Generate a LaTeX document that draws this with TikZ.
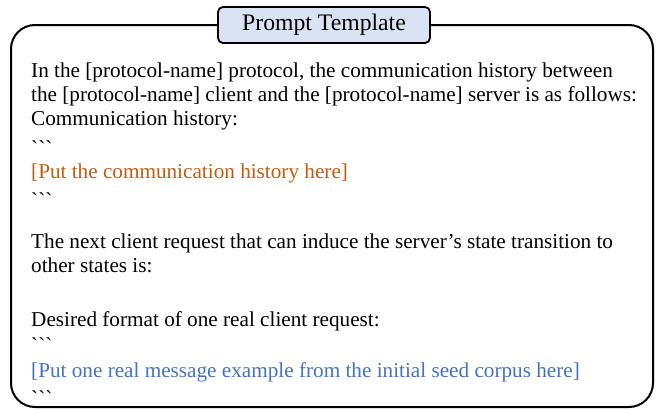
\documentclass[tikz,border=0pt]{standalone}
\usepackage{fontspec}
\setmainfont{Liberation Serif}
\usetikzlibrary{positioning}

\definecolor{titlefill}{HTML}{DAE3F3}
\definecolor{histcolor}{HTML}{C55A11}
\definecolor{seedcolor}{HTML}{4472C4}
\newcommand{\fence}{\textasciigrave\textasciigrave\textasciigrave}

\begin{document}
\begin{tikzpicture}[
    x=1pt, y=-1pt,
    frame/.style={draw, line width=2pt, rounded corners=24pt, minimum width=642pt, minimum height=382pt, inner sep=0pt},
    title/.style={draw, line width=1.8pt, fill=titlefill, rounded corners=5pt, minimum width=212pt, minimum height=36pt, font=\fontsize{23.7}{28}\selectfont},
    textline/.style={anchor=base west, inner sep=0pt, font=\fontsize{21.2}{25}\selectfont}
    ]
    \useasboundingbox (0,0) rectangle (665,410);
    \node (frame) [frame] at (332,216) {};
    \node (title) [title] at (324,25) {Prompt Template};

    % communication history part
    \node (intro1) [textline] at (31,77.5) {In the [protocol-name] protocol, the communication history between};
    \node (intro2) [textline] at (31,101.5) {the [protocol-name] client and the [protocol-name] server is as follows:};
    \node (histhead) [textline] at (31,125) {Communication history:};
    \node (fence1) [textline] at (31,155.5) {\fence};
    \node (history) [textline, text=histcolor] at (31,178) {[Put the communication history here]};
    \node (fence2) [textline] at (31,207) {\fence};

    % request part
    \node (ask1) [textline] at (31,248.5) {The next client request that can induce the server’s state transition to};
    \node (ask2) [textline] at (31,272.5) {other states is:};
    \node (format) [textline] at (31,326) {Desired format of one real client request:};
    \node (fence3) [textline] at (31,352) {\fence};
    \node (seed) [textline, text=seedcolor] at (31,377) {[Put one real message example from the initial seed corpus here]};
    \node (fence4) [textline] at (31,405.5) {\fence};
\end{tikzpicture}
\end{document}
